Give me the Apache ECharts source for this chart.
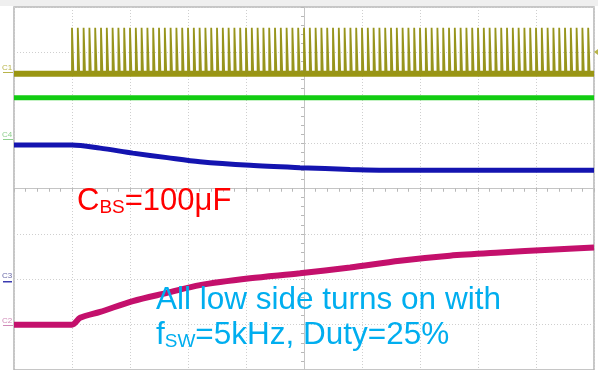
<!DOCTYPE html>
<html>
<head>
<meta charset="utf-8">
<script src="https://cdn.jsdelivr.net/npm/echarts@6/dist/echarts.min.js"></script>
<style>html,body{margin:0;padding:0;background:#fff;}#c{width:598px;height:370px;}</style>
</head>
<body>
<div id="c"></div>
<script>
// Time axis: ms relative to screen centre (2 ms/div). Vertical: divisions from centre.
const X_MIN = -10, X_MAX = 10, X_STEP = 2;
const Y_MIN = -4, Y_MAX = 4, Y_STEP = 1;

// C1 gate drive: low / high level (div) and pulse rise times (ms), fsw = 5 kHz, duty 25%
const C1_LOW = 2.53;
const C1_HIGH = 3.54;
const C1_PULSE_WIDTH = 0.05;
const C1_RISE_TIMES = [
  -8.0,-7.8,-7.6,-7.4,-7.2,-7.0,-6.8,-6.6,-6.4,-6.2,
  -6.0,-5.8,-5.6,-5.4,-5.2,-5.0,-4.8,-4.6,-4.4,-4.2,
  -4.0,-3.8,-3.6,-3.4,-3.2,-3.0,-2.8,-2.6,-2.4,-2.2,
  -2.0,-1.8,-1.6,-1.4,-1.2,-1.0,-0.8,-0.6,-0.4,-0.2,
   0.0, 0.2, 0.4, 0.6, 0.8, 1.0, 1.2, 1.4, 1.6, 1.8,
   2.0, 2.2, 2.4, 2.6, 2.8, 3.0, 3.2, 3.4, 3.6, 3.8,
   4.0, 4.2, 4.4, 4.6, 4.8, 5.0, 5.2, 5.4, 5.6, 5.8,
   6.0, 6.2, 6.4, 6.6, 6.8, 7.0, 7.2, 7.4, 7.6, 7.8,
   8.0, 8.2, 8.4, 8.6, 8.8, 9.0, 9.2, 9.4, 9.6, 9.8
];

// Green trace: flat level
const G_T = [-10, 10];
const G_V = [2.0, 2.0];

// C4 (blue) trace
const C4_T = [-10, -8, -7.03, -5.90, -4.72, -3.59, -1.86, -0.14, 1.59, 3.31, 10];
const C4_V = [0.96, 0.96, 0.89, 0.78, 0.68, 0.59, 0.51, 0.46, 0.42, 0.40, 0.40];

// C2 (magenta) trace
const C2_T = [-10, -8, -7.72, -7.03, -5.90, -4.72, -3.59, -1.86, -0.14, 1.59, 3.31, 5.03, 6.76, 8.48, 10];
const C2_V = [-3.0, -3.0, -2.85, -2.72, -2.48, -2.30, -2.13, -1.98, -1.87, -1.74, -1.59, -1.48, -1.41, -1.35, -1.30];

function zip(t, v) { return t.map((x, i) => [x, v[i]]); }

const pulseData = [];
C1_RISE_TIMES.forEach(r => {
  pulseData.push([r, C1_LOW], [r, C1_HIGH], [r + C1_PULSE_WIDTH, C1_HIGH], [r + C1_PULSE_WIDTH, C1_LOW], null);
});
pulseData.pop();

const FONT = "'Liberation Sans', Arial, sans-serif";
const gridLine = { show: true, lineStyle: { color: '#cfcfcf', type: [1, 2], width: 1 } };

function centreAxis(extra) {
  return Object.assign({
    type: 'value', min: X_MIN, max: X_MAX, interval: X_STEP,
    axisLabel: { show: false },
    axisLine: { show: true, onZero: true, onZeroAxisIndex: 0, lineStyle: { color: '#c4c4c4', width: 1 } },
    axisTick: { show: true, length: 3, lineStyle: { color: '#b8b8b8' } },
    minorTick: { show: true, splitNumber: 5, length: 3, lineStyle: { color: '#b8b8b8' } }
  }, extra);
}

const chart = echarts.init(document.getElementById('c'), null, { renderer: 'canvas' });
chart.setOption({
  animation: false,
  backgroundColor: '#ffffff',
  grid: { left: 14, top: 7, width: 580, height: 368, show: true, borderColor: '#b4b4b4', borderWidth: 1.5, backgroundColor: '#ffffff' },
  xAxis: [
    centreAxis({ splitLine: gridLine }),
    centreAxis({ axisTick: { show: true, inside: true, length: 3, lineStyle: { color: '#b8b8b8' } }, splitLine: { show: false } })
  ],
  yAxis: [
    Object.assign(centreAxis({ min: Y_MIN, max: Y_MAX, interval: Y_STEP, splitLine: gridLine }), { type: 'value' }),
    Object.assign(centreAxis({ min: Y_MIN, max: Y_MAX, interval: Y_STEP, splitLine: { show: false }, axisTick: { show: true, inside: true, length: 3, lineStyle: { color: '#b8b8b8' } } }), { type: 'value' })
  ],
  series: [
    { type: 'line', data: zip(G_T, [C1_LOW, C1_LOW]), showSymbol: false, silent: true,
      lineStyle: { color: '#9a9612', width: 6 } },
    { type: 'line', data: pulseData, showSymbol: false, silent: true, connectNulls: false,
      lineStyle: { color: '#97941c', width: 1.8 } },
    { type: 'line', data: zip(G_T, G_V), showSymbol: false, silent: true,
      lineStyle: { color: '#12cc12', width: 5 } },
    { type: 'line', data: zip(C4_T, C4_V), showSymbol: false, silent: true, smooth: 0.3,
      lineStyle: { color: '#1414b0', width: 5 } },
    { type: 'line', data: zip(C2_T, C2_V), showSymbol: false, silent: true, smooth: 0.3,
      lineStyle: { color: '#c4106c', width: 6 } }
  ],
  graphic: [
    { type: 'rect', left: 0, top: 0, z: 100, shape: { width: 598, height: 6 }, style: { fill: '#efefef' } },
    { type: 'text', x: 2, y: 64, z: 100, style: { text: 'C1', fill: '#b8b44a', font: '8px ' + FONT } },
    { type: 'rect', x: 3, y: 72, z: 100, shape: { width: 10, height: 1 }, style: { fill: '#b8b44a' } },
    { type: 'text', x: 2, y: 131, z: 100, style: { text: 'C4', fill: '#8fd08f', font: '8px ' + FONT } },
    { type: 'rect', x: 3, y: 139, z: 100, shape: { width: 10, height: 1 }, style: { fill: '#8fd08f' } },
    { type: 'text', x: 2, y: 272, z: 100, style: { text: 'C3', fill: '#6a6aa8', font: '8px ' + FONT } },
    { type: 'rect', x: 3, y: 281, z: 100, shape: { width: 9, height: 1.5 }, style: { fill: '#3a3ab0' } },
    { type: 'text', x: 2, y: 317, z: 100, style: { text: 'C2', fill: '#d08ab8', font: '8px ' + FONT } },
    { type: 'rect', x: 3, y: 325, z: 100, shape: { width: 10, height: 1 }, style: { fill: '#d08ab8' } },
    { type: 'polygon', z: 100, shape: { points: [[594, 52], [598, 49], [598, 55]] }, style: { fill: '#b8b44a' } },
    { type: 'text', x: 77, y: 217, z: 200, style: {
        text: '{a|C}{s|BS}{a|=100μF}', verticalAlign: 'bottom', fill: '#ff0000',
        rich: { a: { fontSize: 31, fontFamily: FONT, fill: '#ff0000', verticalAlign: 'bottom' },
                s: { fontSize: 19, fontFamily: FONT, fill: '#ff0000', verticalAlign: 'bottom' } } } },
    { type: 'text', x: 156, y: 316, z: 200, style: {
        text: '{a|All low side turns on with}', verticalAlign: 'bottom', fill: '#00aeef',
        rich: { a: { fontSize: 31.5, fontFamily: FONT, fill: '#00aeef', verticalAlign: 'bottom' } } } },
    { type: 'text', x: 156, y: 351, z: 200, style: {
        text: '{a|f}{s|SW}{a|=5kHz, Duty=25%}', verticalAlign: 'bottom', fill: '#00aeef',
        rich: { a: { fontSize: 31.5, fontFamily: FONT, fill: '#00aeef', verticalAlign: 'bottom' },
                s: { fontSize: 19, fontFamily: FONT, fill: '#00aeef', verticalAlign: 'bottom' } } } }
  ]
});
</script>
</body>
</html>
